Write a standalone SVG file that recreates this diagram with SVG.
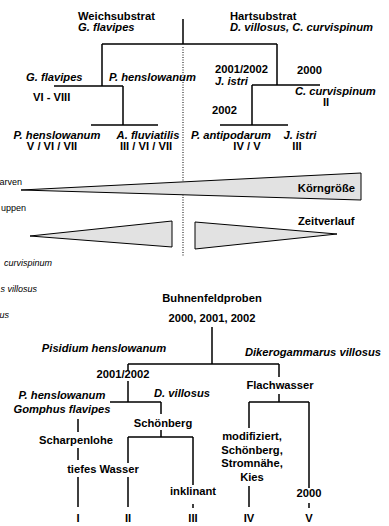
<svg xmlns="http://www.w3.org/2000/svg" width="389" height="526" viewBox="0 0 389 526">
<style>
text{font-family:"Liberation Sans",Arial,sans-serif;font-size:11.2px;font-weight:bold;fill:#000}
.i{font-style:italic}
.m{text-anchor:middle}
.s{font-size:9px;font-weight:normal;text-anchor:end}
.ln{stroke:#000;stroke-width:1.5;fill:none}
.dot{stroke:#000;stroke-width:1;stroke-dasharray:1 1.5;fill:none}
.w{fill:#e2e2e2;stroke:#000;stroke-width:1}
</style>
<rect width="389" height="526" fill="#fff"/>
<g id="connectors">
<path class="ln" d="M183 19V44M102 44H277M102 44V86M54 86H123M123 86V125M91 125H158M277 44V85M252 85H320M252 85V125M220 125H288"/>
<path class="dot" d="M183 47V256"/>
<path class="ln" d="M212 327V364M128 364H279M279 364V377M128 364V371M128 381V402M110 402H161M161 402V414M78 419V432M78 448V460M78 477V507M161 430V437M128 437H193M128 437V463M128 477V507M193 437V485M193 504V508M279 394V402M249 402H309M249 402V428M249 486V507M309 402V488M309 503V508"/>
</g>
<g id="wedges">
<polygon class="w" points="21,190 361,173 361,200"/>
<polygon class="w" points="30,236 172,221 172,247"/>
<polygon class="w" points="195,222 195,249 337,234"/>
</g>
<g id="top-root"><text x="78" y="20">Weichsubstrat</text><text x="78" y="31" class="i">G. flavipes</text></g>
<g id="top-hart"><text x="230" y="20">Hartsubstrat</text><text x="230" y="31" class="i">D. villosus, C. curvispinum</text></g>
<g id="gflav"><text x="26" y="81" class="i">G. flavipes</text><text x="33" y="101">VI - VIII</text></g>
<g id="phensl"><text x="109" y="81" class="i">P. henslowanum</text></g>
<g id="jistri-top"><text x="215" y="73">2001/2002</text><text x="215" y="85" class="i">J. istri</text></g>
<g id="ccurv"><text x="297" y="74">2000</text><text x="295" y="95" class="i">C. curvispinum</text><text x="326" y="106" class="m">II</text></g>
<g id="y2002"><text x="212" y="114">2002</text></g>
<g id="leaf1"><text x="57" y="139" class="i m">P. henslowanum</text><text x="52" y="150" class="m">V / VI / VII</text></g>
<g id="leaf2"><text x="148" y="139" class="i m">A. fluviatilis</text><text x="146" y="150" class="m">III / VI / VII</text></g>
<g id="leaf3"><text x="231" y="139" class="i m">P. antipodarum</text><text x="247" y="150" class="m">IV / V</text></g>
<g id="leaf4"><text x="300" y="139" class="i m">J. istri</text><text x="297" y="150" class="m">III</text></g>
<g id="labels-mid">
<text x="355" y="192" style="text-anchor:end">Körngröße</text>
<text x="298" y="225">Zeitverlauf</text>
<text x="22" y="185" class="s">arven</text>
<text x="26" y="211" class="s">uppen</text>
<text x="52" y="266" class="s i">curvispinum</text>
<text x="37" y="292" class="s i">s villosus</text>
<text x="9" y="318" class="s i">us</text>
</g>
<g id="b-root"><text x="212" y="302" class="m">Buhnenfeldproben</text><text x="212" y="322" class="m">2000, 2001, 2002</text></g>
<g id="b-pis"><text x="104" y="352" class="i m">Pisidium henslowanum</text></g>
<g id="b-dik"><text x="313" y="356" class="i m">Dikerogammarus villosus</text></g>
<g id="b-flach"><text x="280" y="389" class="m">Flachwasser</text></g>
<g id="b-2001"><text x="123" y="378" class="m">2001/2002</text></g>
<g id="b-pg"><text x="62" y="399" class="i m">P. henslowanum</text><text x="62" y="413" class="i m">Gomphus flavipes</text></g>
<g id="b-dv"><text x="182" y="397" class="i m">D. villosus</text></g>
<g id="b-schoen"><text x="163" y="427" class="m">Schönberg</text></g>
<g id="b-scharp"><text x="76" y="444" class="m">Scharpenlohe</text></g>
<g id="b-tief"><text x="103" y="473" class="m">tiefes Wasser</text></g>
<g id="b-inkl"><text x="193" y="495" class="m">inklinant</text></g>
<g id="b-mod"><text x="252" y="440" class="m">modifiziert,</text><text x="252" y="454" class="m">Schönberg,</text><text x="252" y="467" class="m">Stromnähe,</text><text x="252" y="481" class="m">Kies</text></g>
<g id="b-2000"><text x="309" y="497" class="m">2000</text></g>
<g id="roman"><text x="78" y="522" class="m">I</text><text x="128" y="522" class="m">II</text><text x="193" y="522" class="m">III</text><text x="249" y="522" class="m">IV</text><text x="309" y="522" class="m">V</text></g>
</svg>
